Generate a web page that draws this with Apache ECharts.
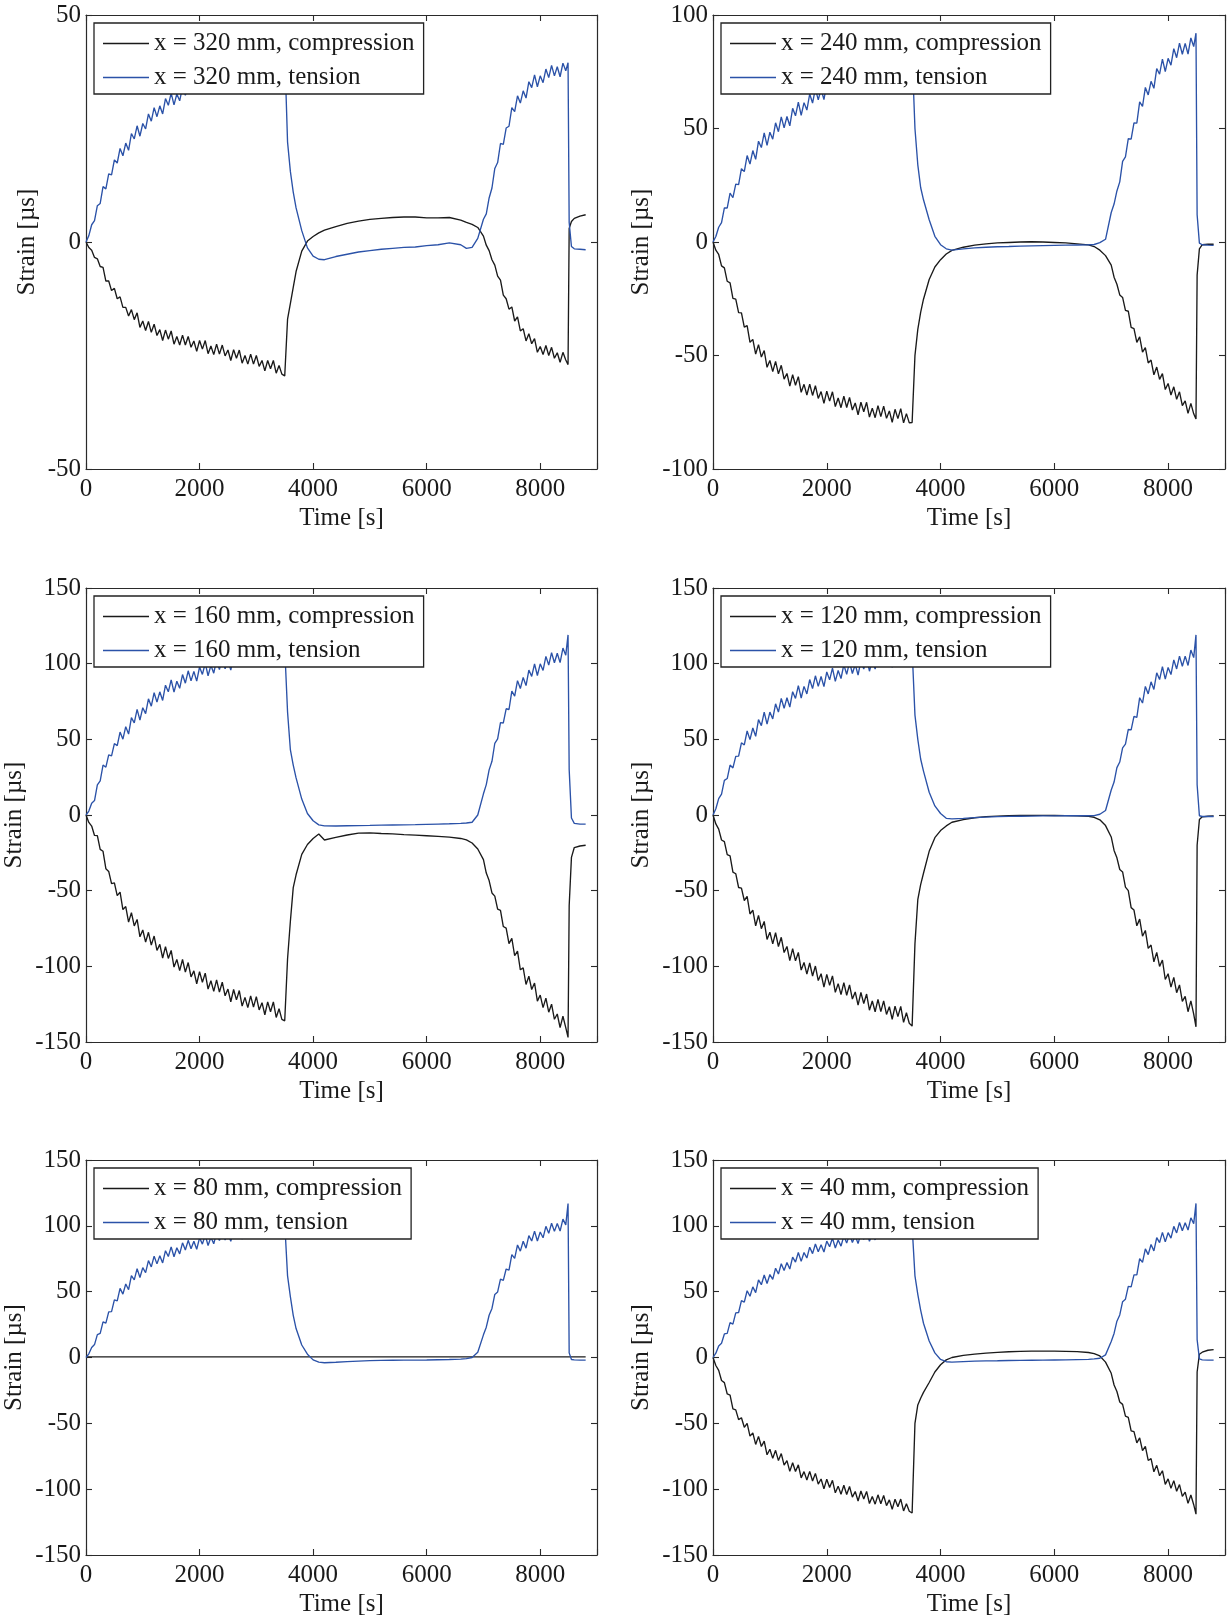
<!DOCTYPE html>
<html><head><meta charset="utf-8">
<script src="https://cdn.jsdelivr.net/npm/echarts@6/dist/echarts.min.js"></script>
<style>html,body{margin:0;padding:0;background:#fff}#c{width:1229px;height:1618px}</style>
</head><body><div id="c"></div>
<script>
// shared sample times [s]
const T = [
  0,50,100,150,200,250,300,350,400,450,
  500,550,600,650,700,750,800,850,900,950,
  1000,1050,1100,1150,1200,1250,1300,1350,1400,1450,
  1500,1550,1600,1650,1700,1750,1800,1850,1900,1950,
  2000,2050,2100,2150,2200,2250,2300,2350,2400,2450,
  2500,2550,2600,2650,2700,2750,2800,2850,2900,2950,
  3000,3050,3100,3150,3200,3250,3300,3350,3400,3450,
  3500,3550,3600,3650,3700,3800,3900,4000,4100,4200,
  4400,4600,4800,5000,5200,5400,5600,5800,6000,6200,6400,6600,
  6700,6800,6900,
  7000,7050,7100,7150,7200,7250,7300,7350,7400,7450,
  7500,7550,7600,7650,7700,7750,7800,7850,7900,7950,
  8000,8050,8100,8150,8200,8250,8300,8350,8400,8450,
  8490,8510,8550,8600,8700,8800
];

// x = 320 mm
const comp320 = [
  0,-1.2,-1.8,-3.4,-3.7,-5.4,-5.6,-8.6,-8.6,-10.7,
  -10.2,-12.5,-12.1,-14.4,-14.4,-16.3,-14.9,-17.1,-15.6,-18.8,
  -17.4,-19.5,-17.5,-19.9,-18.1,-20.6,-19.3,-21.7,-19.4,-21.4,
  -19.6,-22.5,-20.8,-22.7,-20.5,-22.7,-20.8,-23.2,-21.8,-24.1,
  -21.7,-23.6,-21.7,-24.6,-22.9,-24.8,-22.5,-24.7,-22.7,-25.1,
  -23.8,-26.1,-23.7,-25.6,-23.8,-26.7,-25.0,-26.9,-24.7,-26.9,
  -25.0,-27.4,-26.1,-28.4,-26.1,-27.9,-26.1,-28.9,-27.2,-29.1,
  -29.5,-17,-13.5,-10,-6.5,-2,0.2,1.2,2.0,2.6,
  3.4,4.1,4.6,5.0,5.2,5.4,5.5,5.5,5.3,5.3,5.4,4.8,
  4.3,3.9,3.2,
  1.3,-0.7,-1.9,-3.9,-5.1,-7.5,-8.4,-11.7,-12.5,-14.8,
  -14.3,-17.4,-16.5,-19.6,-19.1,-21.8,-20.2,-22.4,-21.3,-24.3,
  -23.0,-24.8,-22.8,-25.0,-23.2,-25.6,-24.4,-26.5,-24.3,-26.0,
  -27.0,3.0,4.5,5.2,5.7,6.0
];
const tens320 = [
  0,1.4,3.8,4.7,8.0,8.5,12.2,11.7,15.0,14.8,
  18.1,17.4,20.6,19.0,21.8,20.2,23.9,22.7,25.6,23.3,
  26.1,24.9,28.2,26.6,29.6,27.6,30.0,28.2,31.6,30.1,
  32.8,30.2,32.6,31.1,34.1,32.3,35.0,32.7,34.8,32.7,
  35.9,34.3,36.8,34.0,36.3,34.7,37.6,35.7,38.3,35.9,
  37.9,35.7,38.8,37.1,39.5,36.7,38.9,37.2,40.0,38.0,
  40.6,38.2,40.1,37.9,40.9,39.1,41.5,38.6,40.8,39.1,
  41.9,22,15.5,11,7.5,2.5,-1.3,-3.1,-3.8,-3.9,
  -3.2,-2.7,-2.2,-1.9,-1.6,-1.4,-1.2,-1.1,-0.8,-0.6,-0.2,-0.6,
  -1.4,-1.2,0.8,
  5.0,6.2,9.7,11.9,16.2,17.5,21.7,21.5,25.1,25.5,
  29.6,28.7,32.2,30.6,33.3,31.7,35.3,34.0,36.8,34.2,
  36.6,35.1,38.1,36.2,38.9,36.6,38.6,36.4,39.4,37.7,
  39.5,4.3,-1.0,-1.5,-1.6,-1.7
];
// x = 240 mm
const comp240 = [
  0,-3.6,-5.5,-10.5,-11.4,-17.3,-18.0,-24.8,-25.2,-31.1,
  -31.2,-37.5,-36.8,-44.2,-42.9,-49.4,-45.2,-50.7,-47.8,-55.2,
  -52.2,-57.1,-52.6,-58.1,-54.3,-60.4,-57.9,-63.5,-58.4,-63.1,
  -59.3,-66.2,-62.7,-67.4,-62.6,-67.6,-63.3,-68.9,-65.9,-71.1,
  -65.7,-70.1,-66.0,-72.5,-68.7,-73.0,-67.9,-72.9,-68.5,-74.0,
  -70.9,-76.1,-70.6,-74.8,-70.6,-77.1,-73.2,-77.4,-72.1,-76.9,
  -72.3,-77.7,-74.4,-79.4,-73.7,-77.8,-73.4,-79.7,-75.6,-79.7,
  -79.5,-50,-38.5,-31,-25.2,-16.5,-11,-7.8,-5.3,-3.7,
  -2.3,-1.4,-0.8,-0.4,-0.2,0,0.1,0,-0.2,-0.4,-0.8,-1.3,
  -2.0,-3.6,-6,
  -10.2,-15.5,-18.6,-23.3,-24.4,-30.1,-30.5,-37.6,-38.2,-44.2,
  -41.8,-48.5,-46.5,-53.3,-52.0,-58.5,-55.1,-60.5,-58.0,-65.0,
  -62.3,-67.4,-63.8,-69.3,-66.0,-72.1,-70.0,-75.5,-71.1,-75.7,
  -78.0,-14.6,-3,-1.2,-1.0,-1.0
];
const tens240 = [
  0,2.4,6.5,8.5,15.0,15.0,21.5,19.5,25.5,25.3,
  32.3,31.0,38.1,34.3,40.3,36.4,44.4,41.6,48.1,42.6,
  48.4,45.3,52.5,48.6,55.1,50.3,55.3,51.2,58.9,55.6,
  61.6,55.8,61.4,58.1,65.2,61.2,67.6,62.6,67.3,62.7,
  69.9,66.3,71.9,65.7,70.9,67.2,73.9,69.5,75.4,70.1,
  74.6,69.7,76.7,72.9,78.3,71.9,76.9,73.0,79.5,74.9,
  80.6,75.2,79.5,74.4,81.2,77.2,82.5,76.0,80.9,76.9,
  83.2,50,34,24,18.6,9.8,2.5,-1.2,-3,-3.6,
  -3,-2.6,-2.3,-2.1,-2,-1.8,-1.7,-1.6,-1.5,-1.4,-1.3,-1.2,
  -1.1,-0.3,1.2,
  13.0,16.7,22.5,26.5,35.5,37.5,45.5,45.3,52.5,52.4,
  61.7,59.7,68.1,64.8,70.8,67.7,76.4,73.9,80.6,75.1,
  80.9,77.9,85.2,81.2,87.6,82.7,87.5,82.8,89.9,86.1,
  92,12,-0.5,-1.2,-1.4,-1.5
];
// x = 160 mm
const comp160 = [
  0,-4.9,-7.3,-13.5,-13.6,-22.7,-24.0,-35.5,-37.3,-45.4,
  -44.8,-53.3,-51.0,-62.5,-60.5,-70.8,-64.5,-73.3,-69.0,-80.5,
  -76.0,-84.0,-77.5,-86.0,-80.0,-89.5,-85.5,-94.5,-87.0,-94.8,
  -89.5,-100.5,-95.5,-102.8,-95.5,-103.8,-97.5,-107.0,-103.0,-111.5,
  -103.5,-110.5,-104.5,-115.0,-109.5,-116.5,-109.0,-117.0,-110.5,-119.5,
  -115.0,-123.4,-115.3,-122.2,-116.0,-126.3,-120.5,-127.3,-119.5,-127.0,
  -120.0,-128.8,-124.0,-132.0,-123.5,-130.0,-123.5,-133.8,-128.0,-135.0,
  -136.0,-95,-70,-48,-39.5,-26,-19.5,-15.5,-12.5,-16.5,
  -14.8,-13.2,-12,-11.8,-12.2,-12.5,-13,-13.3,-13.7,-14.1,-14.6,-15.5,
  -16.5,-18.5,-22.5,
  -29.5,-38.4,-43.3,-51.5,-53.6,-62.2,-63.0,-73.7,-74.8,-85.0,
  -81.5,-93.0,-90.0,-102.3,-101.0,-112.0,-106.5,-115.3,-111.0,-123.0,
  -119.0,-127.3,-121.0,-130.3,-125.0,-135.0,-131.5,-140.5,-133.0,-140.5,
  -147,-60,-28,-21.5,-20.5,-20
];
const tens160 = [
  0,2.6,7.8,9.5,19.9,22.6,33.0,31.6,39.7,39.1,
  47.2,45.8,54.8,50.1,58.4,53.5,64.3,60.9,69.8,62.7,
  70.9,67.0,76.8,71.9,80.8,74.6,81.4,75.7,85.8,81.4,
  89.3,81.2,88.4,83.7,92.8,87.1,95.3,88.6,94.9,88.5,
  97.8,92.9,100.3,92.0,98.9,93.7,102.3,96.1,103.8,96.6,
  102.4,95.7,104.8,99.5,106.6,97.9,104.4,99.0,107.3,100.9,
  108.3,100.9,106.4,99.5,108.3,102.9,109.8,101.0,107.4,102.0,
  110.3,68,43,33,24.5,10.5,1,-3.8,-6.5,-7.2,
  -7.3,-7.1,-7,-6.9,-6.7,-6.6,-6.5,-6.4,-6.2,-6,-5.8,-5.5,
  -5.3,-4.8,0,
  14.0,20.1,29.8,35.5,47.4,50.3,61.0,60.8,70.2,69.7,
  81.8,78.6,88.8,83.6,90.9,85.5,95.8,91.6,99.8,92.2,
  99.9,95.5,104.8,99.1,107.3,100.6,106.9,100.7,110.3,105.6,
  119,30,-2,-5.5,-6,-6
];
// x = 120 mm
const comp120 = [
  0,-5.9,-9.3,-16.5,-17.6,-26.2,-27.0,-37.7,-38.8,-47.9,
  -48.3,-56.5,-53.8,-65.4,-62.9,-73.2,-66.3,-75.1,-70.3,-82.2,
  -77.4,-85.2,-77.8,-86.9,-80.8,-90.9,-86.9,-96.2,-88.3,-96.4,
  -90.8,-102.5,-97.4,-105.2,-97.8,-106.4,-99.8,-109.4,-104.9,-113.7,
  -105.3,-112.6,-106.3,-117.2,-111.4,-118.7,-110.8,-119.1,-112.3,-121.6,
  -116.9,-125.7,-117.3,-124.6,-118.3,-129.0,-122.9,-130.0,-121.8,-129.9,
  -122.8,-131.8,-126.7,-135.1,-126.3,-133.2,-126.5,-137.0,-130.7,-137.6,
  -139.5,-85,-56,-46,-38.5,-24,-15,-10.3,-7.2,-4.8,
  -3,-1.8,-1.1,-0.7,-0.5,-0.3,-0.2,-0.2,-0.3,-0.4,-0.5,-0.9,
  -1.5,-3.2,-7,
  -14.5,-23.4,-28.3,-36.0,-37.6,-47.7,-50.0,-61.2,-62.8,-73.2,
  -68.8,-80.1,-76.3,-88.1,-85.9,-97.0,-90.8,-100.1,-95.8,-108.7,
  -104.9,-113.7,-107.3,-117.4,-112.3,-123.1,-119.9,-130.0,-122.8,-131.6,
  -140,-20,-3,-1.2,-0.8,-0.6
];
const tens120 = [
  0,4.1,10.8,13.8,22.9,24.1,33.0,31.1,38.7,38.9,
  47.7,46.3,55.5,49.8,57.5,52.0,63.0,59.0,68.0,60.0,
  68.0,63.5,73.5,68.0,77.0,70.5,77.5,71.3,81.5,77.0,
  85.5,77.3,85.0,80.0,89.5,83.5,92.0,85.0,91.5,84.8,
  94.5,89.3,97.0,88.3,95.5,90.2,99.3,92.9,101.0,93.5,
  99.5,92.5,102.0,96.5,104.0,95.0,102.0,96.4,105.3,98.7,
  106.5,98.9,104.7,97.6,107.0,101.3,108.6,99.4,106.2,100.6,
  109.5,66,50,37,29,15,6,1,-2.2,-2.6,
  -2.2,-1.7,-1.4,-1.1,-0.9,-0.8,-0.7,-0.6,-0.6,-0.5,-0.5,-0.5,
  -0.4,0.5,3,
  16.5,21.8,31.3,35.0,44.4,46.8,56.5,56.3,65.2,64.5,
  77.5,74.0,85.0,80.0,88.0,83.0,94.0,89.5,98.0,89.8,
  97.5,92.8,102.5,96.5,105.0,98.3,105.0,98.8,109.0,104.0,
  119,20,-0.5,-1,-1,-1
];
// x = 80 mm (compression gauge reads a flat line)
const comp80Time = [0, 8800];
const comp80 = [0.5, 0.5];
const tens80 = [
  0,2.8,7.6,9.8,17.4,18.3,27.0,26.1,34.7,34.9,
  43.7,43.0,52.5,48.1,55.8,51.5,62.1,59.0,67.5,60.8,
  68.3,64.4,73.6,68.8,77.0,71.1,77.3,71.8,81.1,76.7,
  84.0,76.5,83.3,78.7,87.1,81.6,89.0,82.6,88.3,82.2,
  90.9,86.1,93.0,85.0,91.3,86.4,94.6,88.8,96.0,89.2,
  94.6,88.2,96.6,91.6,98.2,90.0,96.1,91.1,99.1,93.1,
  100.0,93.1,98.3,91.8,100.1,95.0,101.5,93.3,99.3,94.2,
  102.1,62,46,32,22,9.5,2.5,-1.8,-3.5,-4,
  -3.6,-3.1,-2.7,-2.4,-2.2,-2.1,-2,-2,-1.9,-1.7,-1.5,-1.2,
  -0.8,0,4,
  17.2,23.0,32.1,37.3,47.9,49.8,59.5,58.6,67.2,66.4,
  78.1,75.3,85.5,80.8,88.3,83.0,92.6,88.5,96.0,88.5,
  95.3,90.9,99.6,94.3,102.0,95.8,101.8,96.0,105.1,100.7,
  117,3.5,-1.5,-1.8,-2,-2
];
// x = 40 mm
const comp40 = [
  0,-6.1,-9.8,-17.5,-19.1,-27.7,-28.5,-39.0,-39.8,-47.2,
  -45.8,-53.0,-50.0,-59.7,-57.3,-66.0,-59.9,-67.6,-63.5,-73.9,
  -69.7,-76.6,-70.5,-78.3,-73.0,-81.7,-78.3,-86.5,-79.9,-86.6,
  -81.5,-91.4,-86.7,-93.1,-86.5,-93.8,-88.0,-96.2,-92.3,-99.8,
  -92.4,-98.7,-93.3,-102.8,-97.7,-103.9,-97.0,-104.1,-98.0,-106.0,
  -101.8,-109.0,-101.4,-107.4,-101.7,-110.9,-105.5,-111.4,-104.3,-111.1,
  -104.8,-112.5,-108.1,-115.3,-107.6,-113.4,-107.5,-116.5,-111.0,-116.8,
  -118.1,-50,-36,-31,-26.5,-19,-11,-5.5,-1.8,0,
  1.6,2.6,3.3,3.9,4.4,4.6,4.8,4.8,4.8,4.7,4.5,3.8,
  3.0,1.2,-3.5,
  -12.0,-20.9,-25.8,-33.8,-35.6,-44.5,-45.5,-55.7,-56.3,-64.9,
  -61.0,-70.8,-67.5,-78.2,-76.8,-86.8,-81.9,-89.8,-86.0,-96.4,
  -92.2,-99.4,-93.5,-101.6,-96.5,-105.5,-102.3,-110.8,-104.4,-111.8,
  -119,-11,2.5,4,5.5,6
];
const tens40 = [
  0,3.3,8.8,10.8,17.9,18.3,26.5,25.3,33.9,34.2,
  43.2,42.0,50.7,46.5,53.6,49.3,58.9,55.3,62.7,56.2,
  63.0,59.3,67.8,63.4,71.2,66.0,72.1,67.2,76.2,72.5,
  79.7,73.0,79.7,75.6,83.8,78.9,86.2,80.3,85.6,80.1,
  88.4,84.1,90.7,83.2,89.2,84.6,92.3,86.9,93.7,87.4,
  92.4,86.5,94.4,89.7,95.9,88.2,94.0,89.3,96.8,91.2,
  97.7,91.3,96.1,90.1,97.9,93.1,99.2,91.5,97.2,92.4,
  99.8,62,48,36,26,12.5,3.5,-1.5,-3.2,-3.5,
  -3.1,-2.8,-2.6,-2.5,-2.3,-2.2,-2.1,-2,-1.9,-1.8,-1.6,-1.4,
  -1.1,-0.6,2,
  12.2,18.3,27.6,32.3,42.4,44.3,54.0,53.6,62.7,62.7,
  75.1,72.3,82.5,78.1,85.8,81.0,91.1,87.2,95.0,87.8,
  94.8,90.7,99.6,94.6,102.5,96.3,102.3,96.8,106.1,101.7,
  117,13.6,-1,-1.8,-2,-2
];

const xTicks = [0, 2000, 4000, 6000, 8000];
const positions = ['x = 320 mm', 'x = 240 mm', 'x = 160 mm', 'x = 120 mm', 'x = 80 mm', 'x = 40 mm'];
const yRanges = [[-50, 50, 50], [-100, 100, 50], [-150, 150, 50], [-150, 150, 50], [-150, 150, 50], [-150, 150, 50]];
const compData = [comp320, comp240, comp160, comp120, comp80, comp40];
const compTime = [T, T, T, T, comp80Time, T];
const tensData = [tens320, tens240, tens160, tens120, tens80, tens40];

// layout
const colLeft = [86, 713], colWidth = [511, 512];
const rowTop = [15, 588, 1160], rowHeight = [454, 454, 396];
const yNameGap = [46, 59, 59, 59, 59, 59];

const FONT = 'Liberation Serif';
const TXT = '#1a1a1a';
const BLUE = '#2b52a8';
const BLACK = '#1a1a1a';

const grids = [], xAxes = [], yAxes = [], series = [], legends = [], graphics = [];
const errs = [];
for (let i = 0; i < 6; i++) {
  const col = i % 2, row = Math.floor(i / 2);
  grids.push({left: colLeft[col], top: rowTop[row], width: colWidth[col], height: rowHeight[row], containLabel: false});
  const lineStyle = {color: '#2a2a2a', width: 1.2};
  const tick = {show: true, inside: true, length: 6, lineStyle: {color: '#2a2a2a', width: 1.1}};
  xAxes.push({
    type: 'value', gridIndex: i, position: 'bottom', min: 0, max: 9000, interval: 2000,
    axisLine: {show: true, onZero: false, lineStyle},
    axisTick: tick, splitLine: {show: false},
    axisLabel: {show: true, margin: 8, fontFamily: FONT, fontSize: 25, color: TXT,
      formatter: v => (xTicks.indexOf(v) >= 0 ? String(v) : '')},
    name: 'Time [s]', nameLocation: 'middle', nameGap: 37,
    nameTextStyle: {fontFamily: FONT, fontSize: 25, color: TXT}
  });
  xAxes.push({
    type: 'value', gridIndex: i, position: 'top', min: 0, max: 9000, interval: 2000,
    axisLine: {show: true, onZero: false, lineStyle},
    axisTick: tick, splitLine: {show: false}, axisLabel: {show: false}
  });
  const [ymin, ymax, yint] = yRanges[i];
  yAxes.push({
    type: 'value', gridIndex: i, position: 'left', min: ymin, max: ymax, interval: yint,
    axisLine: {show: true, onZero: false, lineStyle},
    axisTick: tick, splitLine: {show: false},
    axisLabel: {show: true, margin: 5, fontFamily: FONT, fontSize: 25, color: TXT},
    name: 'Strain [\u00b5s]', nameLocation: 'middle', nameRotate: 90, nameGap: yNameGap[i],
    nameTextStyle: {fontFamily: FONT, fontSize: 25, color: TXT}
  });
  yAxes.push({
    type: 'value', gridIndex: i, position: 'right', min: ymin, max: ymax, interval: yint,
    axisLine: {show: true, onZero: false, lineStyle},
    axisTick: tick, splitLine: {show: false}, axisLabel: {show: false}
  });
  const nC = positions[i] + ', compression', nT = positions[i] + ', tension';
  const cT = compTime[i], cV = compData[i], tV = tensData[i];
  if (cT.length !== cV.length) errs.push(nC + ' ' + cT.length + '/' + cV.length);
  if (T.length !== tV.length) errs.push(nT + ' ' + T.length + '/' + tV.length);
  series.push({
    name: nC, type: 'line', xAxisIndex: 2 * i, yAxisIndex: 2 * i,
    data: cT.map((t, k) => [t, cV[k]]), showSymbol: false, symbol: 'none',
    lineStyle: {color: BLACK, width: 1.35}, itemStyle: {color: BLACK}, z: 2
  });
  series.push({
    name: nT, type: 'line', xAxisIndex: 2 * i, yAxisIndex: 2 * i,
    data: T.map((t, k) => [t, tV[k]]), showSymbol: false, symbol: 'none',
    lineStyle: {color: BLUE, width: 1.35}, itemStyle: {color: BLUE}, z: 3
  });
  legends.push({
    show: true, orient: 'vertical', left: colLeft[col] + 8, top: rowTop[row] + 8,
    data: [nC, nT], icon: 'rect', itemWidth: 46, itemHeight: 1.3, itemGap: 9,
    padding: [8, 9, 4, 9], backgroundColor: '#fff', borderColor: '#222', borderWidth: 1.3,
    selectedMode: false,
    textStyle: {fontFamily: FONT, fontSize: 25, color: TXT, lineHeight: 25}
  });
}
if (errs.length) graphics.push({type: 'text', left: 300, top: 300, z: 100,
  style: {text: 'LEN ERR: ' + errs.join('; '), fill: 'red', fontSize: 20}});

const chart = echarts.init(document.getElementById('c'), null, {renderer: 'canvas'});
chart.setOption({
  animation: false,
  backgroundColor: '#fff',
  textStyle: {fontFamily: FONT},
  grid: grids, xAxis: xAxes, yAxis: yAxes, series, legend: legends, graphic: graphics
});
</script></body></html>
